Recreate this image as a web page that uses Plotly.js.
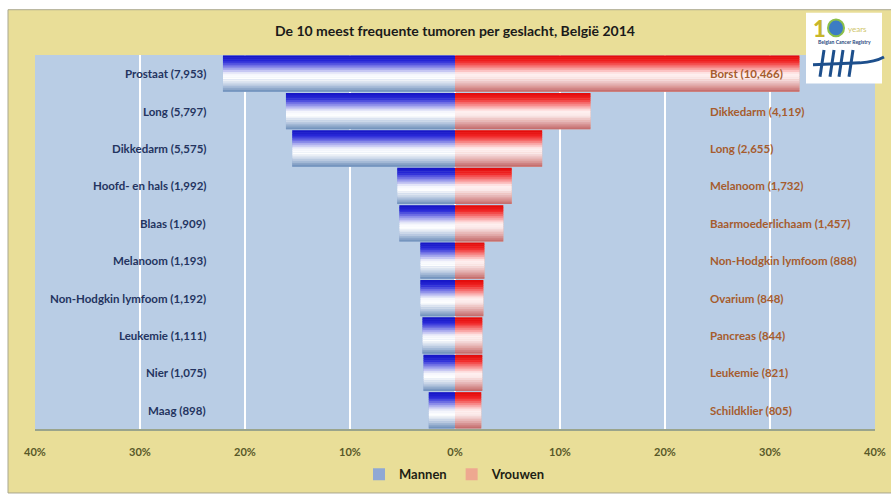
<!DOCTYPE html>
<html>
<head>
<meta charset="utf-8">
<script src="https://cdn.plot.ly/plotly-3.0.1.min.js"></script>
<style>
  html, body { margin: 0; padding: 0; background: #ffffff; }
  #chart { width: 891px; height: 501px; }
</style>
</head>
<body>
<div id="chart"></div>
<script>
// ---- Data ----
const rowRank = ['r1', 'r2', 'r3', 'r4', 'r5', 'r6', 'r7', 'r8', 'r9', 'r10'];

const menNames = ['Prostaat', 'Long', 'Dikkedarm', 'Hoofd- en hals', 'Blaas', 'Melanoom',
  'Non-Hodgkin lymfoom', 'Leukemie', 'Nier', 'Maag'];
const menCounts = [7953, 5797, 5575, 1992, 1909, 1193, 1192, 1111, 1075, 898];
const menPct = [22.1, 16.1, 15.5, 5.5, 5.3, 3.3, 3.3, 3.1, 3.0, 2.5];

const womenNames = ['Borst', 'Dikkedarm', 'Long', 'Melanoom', 'Baarmoederlichaam',
  'Non-Hodgkin lymfoom', 'Ovarium', 'Pancreas', 'Leukemie', 'Schildklier'];
const womenCounts = [10466, 4119, 2655, 1732, 1457, 888, 848, 844, 821, 805];
const womenPct = [32.8, 12.9, 8.3, 5.4, 4.6, 2.8, 2.7, 2.6, 2.6, 2.5];

const tickVals = [-0.4, -0.3, -0.2, -0.1, 0, 0.1, 0.2, 0.3, 0.4];
const tickText = ['40%', '30%', '20%', '10%', '0%', '10%', '20%', '30%', '40%'];

// ---- Styling helpers ----
const FONT = 'Lato, "Open Sans", "DejaVu Sans", sans-serif';
const BEIGE = '#e9de98';
const PLOTBG = '#b9cde5';

function hexToRgb(h) {
  return [parseInt(h.substr(1, 2), 16), parseInt(h.substr(3, 2), 16), parseInt(h.substr(5, 2), 16)];
}
function gradColor(stops, t) {
  for (let i = 0; i < stops.length - 1; i++) {
    const a = stops[i], b = stops[i + 1];
    if (t >= a[0] && t <= b[0]) {
      const f = (t - a[0]) / (b[0] - a[0]);
      const ca = hexToRgb(a[1]), cb = hexToRgb(b[1]);
      const c = ca.map((v, k) => Math.round(v + (cb[k] - v) * f));
      return 'rgb(' + c.join(',') + ')';
    }
  }
  return stops[stops.length - 1][1];
}
const blueStops = [[0, '#1414c4'], [0.16, '#2a2ad8'], [0.5, '#f2f4fb'], [0.62, '#ffffff'], [0.8, '#c4d2e6'], [1, '#6a8cb8']];
const redStops = [[0, '#e00808'], [0.16, '#f02424'], [0.5, '#fff0f0'], [0.62, '#fbeaea'], [0.8, '#e4b0b0'], [1, '#c26666']];

const BW = 0.97;      // total bar thickness (category units)
const NS = 20;        // gradient stripes per bar

const traces = [];
traces.push({
  type: 'bar', orientation: 'h', name: 'Mannen',
  y: rowRank, x: menPct.map(v => -v / 100),
  width: BW, offset: -BW / 2,
  marker: { color: '#8fa8d4', line: { width: 0 } },
  hoverinfo: 'skip', showlegend: true
});
traces.push({
  type: 'bar', orientation: 'h', name: 'Vrouwen',
  y: rowRank, x: womenPct.map(v => v / 100),
  width: BW, offset: -BW / 2,
  marker: { color: '#eea890', line: { width: 0 } },
  hoverinfo: 'skip', showlegend: true
});
for (let i = 0; i < NS; i++) {
  const t = (i + 0.5) / NS;
  const w = BW / NS;
  const w2 = (i === NS - 1) ? w : w * 1.25;
  traces.push({
    type: 'bar', orientation: 'h',
    y: rowRank, x: menPct.map(v => -v / 100),
    width: w2, offset: -BW / 2 + i * w,
    marker: { color: gradColor(blueStops, t), line: { width: 0 } },
    hoverinfo: 'skip', showlegend: false
  });
  traces.push({
    type: 'bar', orientation: 'h',
    y: rowRank, x: womenPct.map(v => v / 100),
    width: w2, offset: -BW / 2 + i * w,
    marker: { color: gradColor(redStops, t), line: { width: 0 } },
    hoverinfo: 'skip', showlegend: false
  });
}

// ---- Annotations: category labels ----
const annotations = [];
const fmt = n => n.toLocaleString('en-US');
menNames.forEach((n, i) => {
  annotations.push({
    x: -0.235, y: i, xref: 'x', yref: 'y',
    text: n + ' (' + fmt(menCounts[i]) + ')',
    xanchor: 'right', yanchor: 'middle', showarrow: false,
    font: { family: FONT, size: 11.5, color: '#243460', weight: 700 }
  });
});
womenNames.forEach((n, i) => {
  annotations.push({
    x: 0.241, y: i, xref: 'x', yref: 'y',
    text: n + ' (' + fmt(womenCounts[i]) + ')',
    xanchor: 'left', yanchor: 'middle', showarrow: false,
    font: { family: FONT, size: 11.5, color: '#a65c2e', weight: 700 }
  });
});

// ---- Decorative frame & logo (pixel positions converted to paper coords) ----
const L = 35, R = 875, T = 55, B = 435;
const px = v => (v - L) / (R - L);
const py = v => (B - v) / (B - T);

const shapes = [
  { type: 'rect', xref: 'paper', yref: 'paper', layer: 'below',
    x0: px(8), x1: px(893), y0: py(500), y1: py(9),
    fillcolor: BEIGE, line: { color: '#a9a78f', width: 1 } },
  { type: 'rect', xref: 'paper', yref: 'paper', layer: 'below',
    x0: 0, x1: 1, y0: 0, y1: 1,
    fillcolor: PLOTBG, line: { width: 0 } },
  // logo box
  { type: 'rect', xref: 'paper', yref: 'paper', layer: 'above',
    x0: px(806), x1: px(882), y0: py(84), y1: py(12),
    fillcolor: '#ffffff', line: { width: 0 } },
  // "0" globe of the logo
  { type: 'circle', xref: 'paper', yref: 'paper', layer: 'above',
    x0: px(828), x1: px(844), y0: py(36), y1: py(19),
    fillcolor: '#3c7cc4', line: { color: '#8cc04a', width: 2 } },
];
[[824, 820], [834, 830], [843, 839], [853, 849]].forEach(p => {
  shapes.push({ type: 'line', xref: 'paper', yref: 'paper', layer: 'above',
    x0: px(p[0]), y0: py(50), x1: px(p[1]), y1: py(77),
    line: { color: '#1d4f8c', width: 3 } });
});
shapes.push({ type: 'path', xref: 'paper', yref: 'paper', layer: 'above',
  path: 'M ' + px(813) + ' ' + py(65) + ' L ' + px(860) + ' ' + py(63) + ' Q ' + px(875) + ' ' + py(62) + ' ' + px(884) + ' ' + py(57),
  line: { color: '#1d4f8c', width: 3 } });

annotations.push({ xref: 'paper', yref: 'paper', x: px(819), y: py(28), text: '1',
  showarrow: false, xanchor: 'center', yanchor: 'middle',
  font: { family: FONT, size: 22, color: '#c8b62a', weight: 900 } });
annotations.push({ xref: 'paper', yref: 'paper', x: px(846), y: py(29), text: 'years',
  showarrow: false, xanchor: 'left', yanchor: 'middle',
  font: { family: FONT, size: 8, color: '#cfc56a' } });
annotations.push({ xref: 'paper', yref: 'paper', x: px(844), y: py(42), text: 'Belgian Cancer Registry',
  showarrow: false, xanchor: 'center', yanchor: 'middle',
  font: { family: FONT, size: 5, color: '#2a4a80', weight: 700 } });

const layout = {
  width: 891, height: 501,
  margin: { l: L, r: 891 - R, t: T, b: 501 - B, pad: 0 },
  paper_bgcolor: '#ffffff',
  plot_bgcolor: PLOTBG,
  barmode: 'overlay',
  title: {
    text: 'De 10 meest frequente tumoren per geslacht, België 2014',
    x: 455 / 891, xref: 'container', xanchor: 'center',
    y: 1 - 31 / 501, yref: 'container', yanchor: 'middle',
    font: { family: FONT, size: 14, color: '#1a1a1a', weight: 700 }
  },
  xaxis: {
    range: [-0.4, 0.4], fixedrange: true,
    tickvals: tickVals, ticktext: tickText,
    showgrid: true, gridcolor: '#ffffff', gridwidth: 2.5,
    zeroline: false, showline: true, linecolor: '#9aa48c', linewidth: 2,
    ticks: 'outside', ticklen: 12, tickcolor: 'rgba(0,0,0,0)',
    tickfont: { family: FONT, size: 11, color: '#585828', weight: 700 }
  },
  yaxis: {
    type: 'category', categoryorder: 'array', categoryarray: rowRank,
    range: [9.5, -0.5], fixedrange: true,
    showticklabels: false, showgrid: false, zeroline: false, showline: false, ticks: ''
  },
  legend: {
    orientation: 'h', x: 0.5, xanchor: 'center', y: py(481), yanchor: 'middle',
    bgcolor: 'rgba(0,0,0,0)', font: { family: FONT, size: 13, color: '#1e1e14', weight: 700 },
    itemwidth: 30, traceorder: 'normal'
  },
  shapes: shapes,
  annotations: annotations,
  showlegend: true
};

Plotly.newPlot('chart', traces, layout, { displayModeBar: false, staticPlot: true });
</script>
</body>
</html>
